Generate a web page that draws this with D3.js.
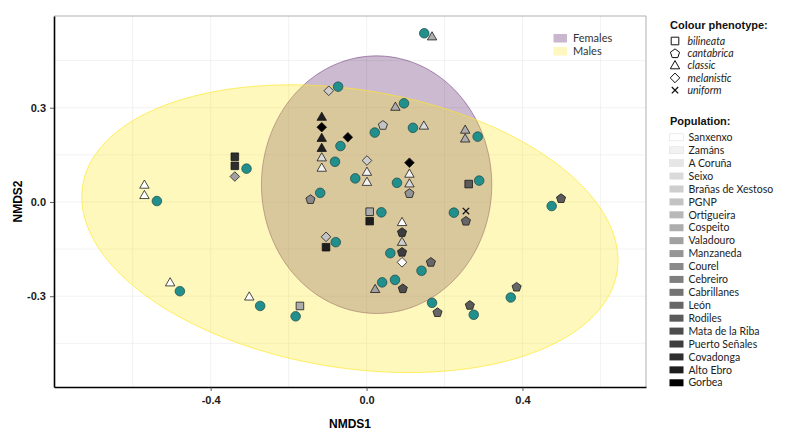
<!DOCTYPE html>
<html><head><meta charset="utf-8">
<script src="https://cdn.jsdelivr.net/npm/d3@7/dist/d3.min.js"></script>
<style>
body{margin:0;background:#fff;}
svg{display:block;}
</style></head>
<body>
<svg id="chart" width="787" height="434"></svg>
<script>
// ---------------- DATA ----------------
const xTicks = [-0.4, 0.0, 0.4];
const yTicks = [-0.3, 0.0, 0.3];
const xGrid = [-0.6, -0.4, -0.2, 0.0, 0.2, 0.4, 0.6];
const yGrid = [-0.45, -0.3, -0.15, 0.0, 0.15, 0.3, 0.45];

const phenotypes = ["bilineata", "cantabrica", "classic", "melanistic", "uniform"];
const populations = ["Sanxenxo","Zamáns","A Coruña","Seixo","Brañas de Xestoso","PGNP","Ortigueira","Cospeito","Valadouro","Manzaneda","Courel","Cebreiro","Cabrillanes","León","Rodiles","Mata de la Riba","Puerto Señales","Covadonga","Alto Ebro","Gorbea"];
const sexes = ["Females", "Males"];

// teal circles [NMDS1, NMDS2]
const tealPoints = [
 [0.148,0.537],[-0.073,0.367],[0.096,0.314],[-0.067,0.178],[-0.081,0.128],[0.021,0.221],[0.119,0.236],
 [-0.029,0.075],[0.078,0.061],[-0.119,0.029],[0.285,0.208],[0.289,0.068],[0.475,-0.013],[0.224,-0.034],
 [0.370,-0.304],[0.275,-0.359],[0.038,-0.033],[0.061,-0.163],[-0.079,-0.128],[0.141,-0.219],[0.040,-0.256],
 [0.073,-0.248],[0.168,-0.321],[-0.273,-0.331],[-0.182,-0.364],[-0.479,-0.284],[-0.538,0.003],[-0.308,0.106]
];

// [NMDS1, NMDS2, population] per phenotype
const bilineata = [[-0.338,0.144,"Covadonga"],[-0.338,0.115,"Covadonga"],[0.262,0.057,"Rodiles"],[0.008,-0.031,"Cospeito"],[0.008,-0.061,"Alto Ebro"],[-0.104,-0.144,"Alto Ebro"],[-0.171,-0.331,"Cospeito"]];
const classic = [[0.168,0.526,"Cospeito"],[0.074,0.302,"Cospeito"],[-0.115,0.270,"Alto Ebro"],[-0.115,0.203,"Alto Ebro"],[-0.115,0.171,"Alto Ebro"],[-0.115,0.141,"Seixo"],[-0.115,0.108,"Zamáns"],[0.147,0.242,"Seixo"],[0.001,0.095,"Zamáns"],[0.001,0.063,"Zamáns"],[0.110,0.089,"Zamáns"],[0.110,0.058,"Seixo"],[0.253,0.229,"Cospeito"],[0.253,0.201,"Cospeito"],[-0.570,0.054,"Sanxenxo"],[-0.570,0.021,"Sanxenxo"],[-0.504,-0.257,"Sanxenxo"],[-0.301,-0.302,"Sanxenxo"],[0.091,-0.065,"Sanxenxo"],[0.091,-0.128,"Brañas de Xestoso"],[0.022,-0.278,"Valadouro"]];
const cantabrica = [[0.042,0.245,"PGNP"],[0.110,0.028,"Manzaneda"],[-0.144,0.009,"Courel"],[0.499,0.012,"Rodiles"],[0.255,-0.060,"León"],[0.385,-0.270,"León"],[0.265,-0.328,"Rodiles"],[0.091,-0.096,"Puerto Señales"],[0.091,-0.159,"Puerto Señales"],[0.165,-0.191,"León"],[0.093,-0.275,"Mata de la Riba"],[0.182,-0.351,"León"]];
const melanistic = [[-0.338,0.081,"Valadouro"],[-0.097,0.354,"Brañas de Xestoso"],[-0.115,0.238,"Gorbea"],[-0.048,0.206,"Gorbea"],[0.001,0.132,"Brañas de Xestoso"],[0.110,0.125,"Gorbea"],[0.091,-0.192,"Sanxenxo"],[-0.104,-0.111,"PGNP"]];
const uniform = [[0.255,-0.029,"Cebreiro"]];

// ellipse parameters (data units): centre, half-width in x, half-height in y, phase
const ellipseFemales = {cx:0.0258, cy:0.0551, rx:0.2955, ry:0.410, phi:Math.PI/2};
const ellipseMales   = {cx:-0.0428, cy:-0.0850, rx:0.688, ry:0.458, phi:Math.acos(-0.22)};

// ---------------- STYLE ----------------
const greyRange = ["#ffffff","#f2f2f2","#e6e6e6","#dadada","#cecece","#c3c3c3","#b8b8b8","#adadad","#a1a1a1","#959595","#8a8a8a","#7f7f7f","#737373","#676767","#5b5b5b","#4d4d4d","#3e3e3e","#2f2f2f","#1e1e1e","#000000"];
const popColor = d3.scaleOrdinal().domain(populations).range(greyRange);
const sexColor = d3.scaleOrdinal().domain(sexes).range(["#440154","#FDE725"]);

const W = 787, H = 434;
const m = {l:54, t:16, r:141, b:47};
const svg = d3.select("#chart");

const x = d3.scaleLinear().domain([-0.802, 0.717]).range([m.l, W - m.r]);
const y = d3.scaleLinear().domain([-0.589, 0.592]).range([H - m.b, m.t]);

// grid
const g = svg.append("g");
g.selectAll(".vg").data(xGrid).join("line")
  .attr("x1", d=>x(d)).attr("x2", d=>x(d)).attr("y1", m.t).attr("y2", H-m.b)
  .attr("stroke", "#ececec").attr("stroke-width", 0.7);
g.selectAll(".hg").data(yGrid).join("line")
  .attr("y1", d=>y(d)).attr("y2", d=>y(d)).attr("x1", m.l).attr("x2", W-m.r)
  .attr("stroke", "#ececec").attr("stroke-width", 0.7);

// top/right border
svg.append("path")
  .attr("d", `M${m.l},${m.t}H${W-m.r}V${H-m.b}`)
  .attr("fill","none").attr("stroke","#b0b0b0").attr("stroke-width",1);

// ellipses
function ellipsePath(e){
  const pts = d3.range(0, 360, 2).map(deg => {
    const t = deg*Math.PI/180;
    return [x(e.cx + e.rx*Math.cos(t)), y(e.cy + e.ry*Math.cos(t - e.phi))];
  });
  return d3.line().curve(d3.curveCardinalClosed)(pts);
}
svg.append("path").attr("d", ellipsePath(ellipseFemales))
  .attr("fill", sexColor("Females")).attr("fill-opacity", 0.27)
  .attr("stroke", sexColor("Females")).attr("stroke-opacity", 0.45).attr("stroke-width", 0.9);
svg.append("path").attr("d", ellipsePath(ellipseMales))
  .attr("fill", sexColor("Males")).attr("fill-opacity", 0.3)
  .attr("stroke", sexColor("Males")).attr("stroke-opacity", 0.75).attr("stroke-width", 0.9);

// shape generators (centred at 0,0)
const shapePath = {
  bilineata: s => { const h=3.8*s; return `M${-h},${-h}H${h}V${h}H${-h}Z`; },
  classic: s => `M0,${-5*s}L${4.7*s},${3.2*s}L${-4.7*s},${3.2*s}Z`,
  melanistic: s => `M0,${-4.8*s}L${4.8*s},0L0,${4.8*s}L${-4.8*s},0Z`,
  cantabrica: s => { const r=4.8*s; return "M"+d3.range(5).map(k=>{const a=-Math.PI/2+k*2*Math.PI/5; return [r*Math.cos(a), r*Math.sin(a)+0.4*s].join(",");}).join("L")+"Z"; },
  uniform: s => { const h=3.2*s; return `M${-h},${-h}L${h},${h}M${-h},${h}L${h},${-h}`; }
};

// teal circles
svg.append("g").selectAll("circle").data(tealPoints).join("circle")
  .attr("cx", d=>x(d[0])).attr("cy", d=>y(d[1])).attr("r", 4.8)
  .attr("fill", "#21908C").attr("stroke", "#1d4443").attr("stroke-width", 0.7);

// phenotype points
const groups = {bilineata, cantabrica, classic, melanistic, uniform};
const pg = svg.append("g");
phenotypes.forEach(ph => {
  pg.selectAll(null).data(groups[ph]).join("path")
    .attr("transform", d=>`translate(${x(d[0])},${y(d[1])})`)
    .attr("d", shapePath[ph](1))
    .attr("fill", d => ph==="uniform" ? "none" : popColor(d[2]))
    .attr("stroke", "#111").attr("stroke-width", ph==="uniform" ? 1.3 : 0.75)
    .attr("stroke-linejoin","round");
});

// axes
const xAxis = d3.axisBottom(x).tickValues(xTicks).tickFormat(d=>d.toFixed(1)).tickSize(4).tickSizeOuter(0).tickPadding(5);
const yAxis = d3.axisLeft(y).tickValues(yTicks).tickFormat(d=>d.toFixed(1)).tickSize(4).tickSizeOuter(0).tickPadding(4);
const gx = svg.append("g").attr("transform", `translate(0,${H-m.b})`).call(xAxis);
const gy = svg.append("g").attr("transform", `translate(${m.l},0)`).call(yAxis);
[gx, gy].forEach(a => {
  a.select(".domain").attr("stroke", "#000").attr("stroke-width", 1.6);
  a.selectAll(".tick line").attr("stroke", "#333").attr("stroke-width", 0.8);
  a.selectAll(".tick text").attr("fill", "#1a1a1a")
    .style("font-family", "'Liberation Sans', Arial, sans-serif")
    .style("font-size", "11px").style("font-weight", "bold");
});

svg.append("text").text("NMDS1")
  .attr("x", (m.l + W - m.r)/2).attr("y", 428).attr("text-anchor","middle")
  .style("font-family","'Liberation Sans', Arial, sans-serif").style("font-size","12px").style("font-weight","bold");
svg.append("text").text("NMDS2")
  .attr("transform", `translate(22,${(m.t + H - m.b)/2}) rotate(-90)`).attr("text-anchor","middle")
  .style("font-family","'Liberation Sans', Arial, sans-serif").style("font-size","12px").style("font-weight","bold");

// sex legend inside plot
const sl = svg.append("g");
sexes.forEach((s,i) => {
  const yy = 34 + i*13;
  sl.append("rect").attr("x", 553.5).attr("y", yy).attr("width", 13.5).attr("height", 8.5)
    .attr("fill", s==="Females" ? "#c9b6cf" : "#fef8c0");
  sl.append("text").text(s).attr("x", 573).attr("y", yy + 8)
    .attr("fill","#333").style("font-family","Lato, sans-serif").style("font-size","11px");
});

// right legends
const lf = "Lato, sans-serif";
const rl = svg.append("g");
rl.append("text").text("Colour phenotype:").attr("x", 670).attr("y", 29)
  .attr("fill","#111").style("font-family","'Liberation Sans', Arial, sans-serif").style("font-size","11px").style("font-weight","bold");
phenotypes.forEach((ph,i) => {
  const yy = 41 + i*12.3;
  rl.append("path").attr("transform", `translate(675,${yy})`).attr("d", shapePath[ph](1.0))
    .attr("fill", ph==="uniform" ? "none" : "#fff").attr("stroke","#111").attr("stroke-width", ph==="uniform"?1.3:1);
  rl.append("text").text(ph).attr("x", 687.5).attr("y", yy + 3.6)
    .attr("fill","#222").style("font-family",lf).style("font-size","10.5px").style("font-style","italic");
});
rl.append("text").text("Population:").attr("x", 670).attr("y", 125)
  .attr("fill","#111").style("font-family","'Liberation Sans', Arial, sans-serif").style("font-size","11px").style("font-weight","bold");
populations.forEach((p,i) => {
  const yy = 137.3 + i*12.92;
  rl.append("rect").attr("x", 669.5).attr("y", yy-3.5).attr("width", 14).attr("height", 7)
    .attr("fill", popColor(p)).attr("stroke", i<3 ? "#e0e0e0" : "none").attr("stroke-width", 0.6);
  rl.append("text").text(p).attr("x", 688.5).attr("y", yy + 3.7)
    .attr("fill","#222").style("font-family",lf).style("font-size","10.5px");
});
</script>
</body></html>
